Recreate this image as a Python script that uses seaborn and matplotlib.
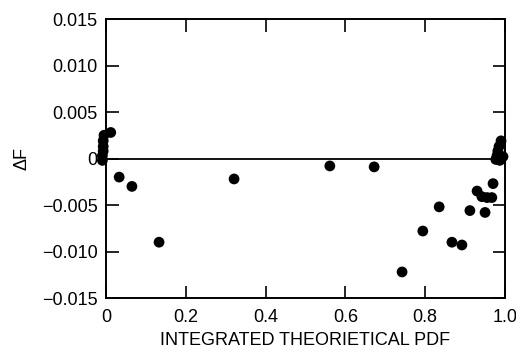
import matplotlib
matplotlib.use("Agg")
import matplotlib.pyplot as plt
import seaborn as sns
import pandas as pd

# data
pdf_x = [-0.009, -0.009, -0.007, -0.007, -0.007, -0.005, 0.012,
         0.033, 0.065, 0.133, 0.321, 0.561, 0.672, 0.742, 0.794, 0.835,
         0.867, 0.892, 0.912, 0.930, 0.942, 0.950, 0.955, 0.967, 0.970,
         0.977, 0.980, 0.982, 0.985, 0.987, 0.990, 0.995]
delta_f = [-0.0002, 0.0003, 0.0008, 0.0013, 0.0019, 0.0025, 0.0028,
           -0.0020, -0.0030, -0.0090, -0.0022, -0.0008, -0.0009, -0.0122, -0.0078, -0.0052,
           -0.0090, -0.0093, -0.0056, -0.0035, -0.0041, -0.0058, -0.0042, -0.0042, -0.0027,
           -0.0001, 0.0003, 0.0008, 0.0013, -0.0002, 0.0019, 0.0002]
x_ticks = [0, 0.2, 0.4, 0.6, 0.8, 1.0]
x_tick_labels = ["0", "0.2", "0.4", "0.6", "0.8", "1.0"]
y_ticks = [-0.015, -0.010, -0.005, 0, 0.005, 0.010, 0.015]
y_tick_labels = ["\u22120.015", "\u22120.010", "\u22120.005", "0", "0.005", "0.010", "0.015"]

sns.set_style("ticks")
plt.rcParams['font.family'] = ['Liberation Sans', 'DejaVu Sans']
plt.rcParams['text.color'] = 'black'
plt.rcParams['axes.labelcolor'] = 'black'
plt.rcParams['xtick.color'] = 'black'
plt.rcParams['ytick.color'] = 'black'

df = pd.DataFrame({"x": pdf_x, "y": delta_f})
fig = plt.figure(figsize=(5.16, 3.52), dpi=100)
ax = fig.add_axes([0.2054, 0.1534, 0.7733, 0.7926])
sns.scatterplot(data=df, x="x", y="y", ax=ax, color="black", s=60,
                edgecolor="none", zorder=3, clip_on=False)
ax.axhline(0, color="black", lw=1.3, zorder=2)
ax.set_xlim(0, 1.0)
ax.set_ylim(-0.015, 0.015)
ax.set_xticks(x_ticks)
ax.set_xticklabels(x_tick_labels)
ax.set_yticks(y_ticks)
ax.set_yticklabels(y_tick_labels)
ax.tick_params(direction="in", length=9, width=1.2, labelsize=13,
               top=True, right=True, colors="black")
ax.tick_params(axis="x", pad=8)
ax.tick_params(axis="y", pad=6)
for s in ax.spines.values():
    s.set_visible(True)
    s.set_linewidth(1.4)
    s.set_color("black")
ax.set_xlabel("INTEGRATED THEORIETICAL PDF", fontsize=13, labelpad=4, color="black")
ax.set_ylabel("\u0394F", fontsize=13, labelpad=8, color="black")
fig.savefig("out.png", dpi=100)
